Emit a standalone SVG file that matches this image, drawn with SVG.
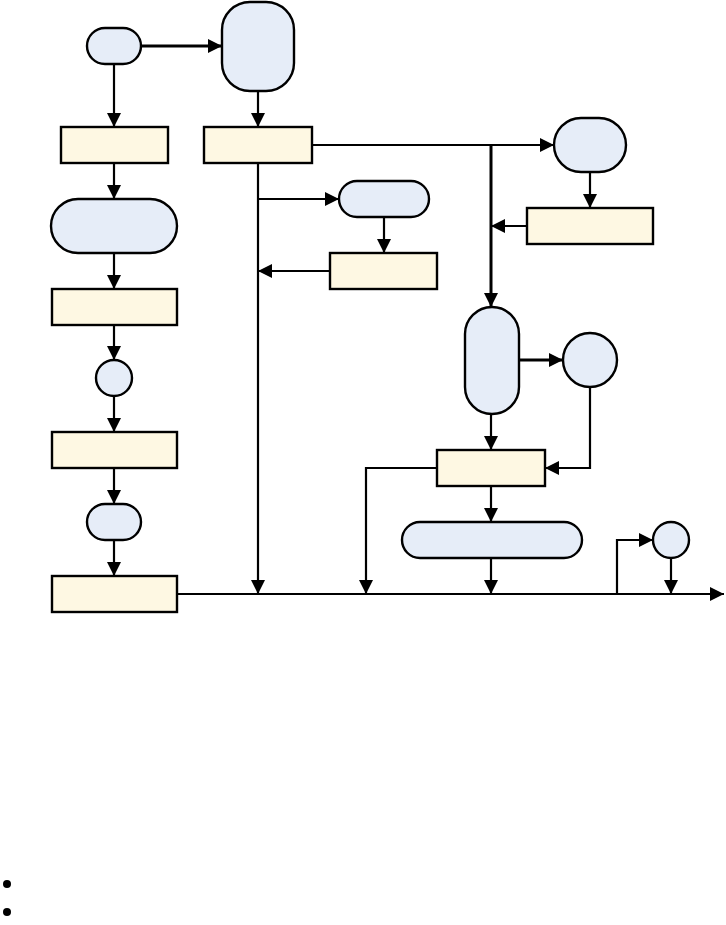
<svg xmlns="http://www.w3.org/2000/svg" width="726" height="925" viewBox="0 0 726 925">
<style>
.b{fill:#e6edf8;stroke:#000;stroke-width:2.4}
.y{fill:#fef8e3;stroke:#000;stroke-width:2.4}
.c path{fill:none;stroke:#000;stroke-width:2.2;marker-end:url(#ah)}
.c path.t{stroke-width:3}
</style>
<defs>
<marker id="ah" markerUnits="userSpaceOnUse" markerWidth="16" markerHeight="16" refX="14" refY="7" orient="auto">
<path d="M0,0 L14,7 L0,14 Z" fill="#000"/>
</marker>
</defs>
<rect width="726" height="925" fill="#fff"/>
<g class="c" id="connectors">
<path class="t" d="M141,46 H222"/>
<path d="M114,64 V127"/>
<path d="M258,91 V127"/>
<path d="M114,163 V199"/>
<path d="M114,253 V289"/>
<path d="M114,325 V360"/>
<path d="M114,396 V432"/>
<path d="M114,468 V504"/>
<path d="M114,540 V576"/>
<path d="M177,594 H724"/>
<path d="M258,163 V594"/>
<path d="M258,199 H339"/>
<path d="M384,217 V253"/>
<path d="M330,271 H258"/>
<path d="M312,145 H554"/>
<path class="t" d="M491,145 V307"/>
<path d="M590,172 V208"/>
<path d="M527,226 H491"/>
<path class="t" d="M519,360 H563"/>
<path d="M590,387 V468 H545"/>
<path d="M491,414 V450"/>
<path d="M437,468 H366 V594"/>
<path d="M491,486 V522"/>
<path d="M491,558 V594"/>
<path d="M617,594 V540 H653"/>
<path d="M671,558 V594"/>
</g>
<g id="nA"><rect class="b" x="87" y="28" width="54" height="36" rx="18"/></g>
<g id="nB"><rect class="b" x="222" y="2" width="72" height="89" rx="28"/></g>
<g id="nBox1"><rect class="y" x="61" y="127" width="107" height="36"/></g>
<g id="nBox2"><rect class="y" x="204" y="127" width="108" height="36"/></g>
<g id="nPill2"><rect class="b" x="51" y="199" width="126" height="54" rx="27"/></g>
<g id="nBox3"><rect class="y" x="52" y="289" width="125" height="36"/></g>
<g id="nH"><circle class="b" cx="114" cy="378" r="18"/></g>
<g id="nBox8"><rect class="y" x="52" y="432" width="125" height="36"/></g>
<g id="nI"><rect class="b" x="87" y="504" width="54" height="36" rx="18"/></g>
<g id="nBox9"><rect class="y" x="52" y="576" width="125" height="36"/></g>
<g id="nPill3"><rect class="b" x="339" y="181" width="90" height="36" rx="18"/></g>
<g id="nBox4"><rect class="y" x="330" y="253" width="107" height="36"/></g>
<g id="nC"><rect class="b" x="554" y="118" width="72" height="54" rx="27"/></g>
<g id="nBox5"><rect class="y" x="527" y="208" width="126" height="36"/></g>
<g id="nD"><rect class="b" x="465" y="307" width="54" height="107" rx="27"/></g>
<g id="nE"><circle class="b" cx="590" cy="360" r="27"/></g>
<g id="nBox6"><rect class="y" x="437" y="450" width="108" height="36"/></g>
<g id="nF"><rect class="b" x="402" y="522" width="180" height="36" rx="18"/></g>
<g id="nG"><circle class="b" cx="671" cy="540" r="18"/></g>
<g id="bullets">
<circle cx="7" cy="884" r="4" fill="#000"/>
<circle cx="7" cy="912" r="4" fill="#000"/>
</g>
</svg>
